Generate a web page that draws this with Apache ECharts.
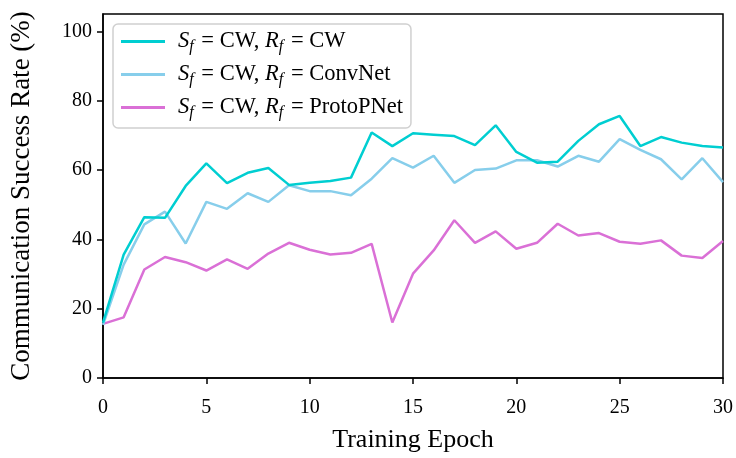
<!DOCTYPE html>
<html>
<head>
<meta charset="utf-8">
<script src="https://cdn.jsdelivr.net/npm/echarts@6/dist/echarts.min.js"></script>
<style>html,body{margin:0;padding:0;background:#fff}#c{width:736px;height:458px}</style>
</head>
<body>
<div id="c"></div>
<script>
var epochs = [0,1,2,3,4,5,6,7,8,9,10,11,12,13,14,15,16,17,18,19,20,21,22,23,24,25,26,27,28,29,30];
var cwCw = [16,35.6,46.4,46.2,55.4,61.9,56.2,59.2,60.6,55.7,56.3,56.8,57.8,70.8,66.9,70.6,70.2,69.8,67.2,72.9,65.2,62.1,62.4,68.4,73.2,75.6,66.9,69.5,67.9,66.9,66.5];
var cwConv = [15.3,32.7,44.3,48,38.8,50.8,48.8,53.3,50.8,55.6,53.9,53.9,52.7,57.5,63.4,60.7,64.1,56.3,60,60.4,62.8,62.8,61,64.1,62.4,68.9,65.8,63.1,57.3,63.4,56.5];
var cwProto = [15.6,17.5,31.3,34.9,33.4,31,34.2,31.5,35.9,39,37,35.6,36.1,38.7,16,30.1,36.8,45.5,39,42.3,37.3,39,44.5,41.1,41.8,39.3,38.7,39.7,35.3,34.6,39.5];
var seriesNames = ['CW, CW', 'CW, ConvNet', 'CW, ProtoPNet'];
var receivers = ['CW', 'ConvNet', 'ProtoPNet'];
var colors = ['#00CED1', '#87CEEB', '#DA70D6'];

function pairs(vals){ return epochs.map(function(e,i){ return [e, vals[i]]; }); }
var allVals = [cwCw, cwConv, cwProto];
var font = 'Liberation Serif';

var chart = echarts.init(document.getElementById('c'));
chart.setOption({
  animation: false,
  grid: {left: 103, right: 10, top: 14, bottom: 80, show: true, borderColor: '#000', borderWidth: 1.5, backgroundColor: 'transparent'},
  legend: {
    left: 113, top: 24, orient: 'vertical',
    icon: 'rect', itemWidth: 44, itemHeight: 3, itemGap: 6,
    padding: [4, 8, 7, 8],
    backgroundColor: 'rgba(255,255,255,0.85)', borderColor: '#d0d0d0', borderWidth: 1.5, borderRadius: 5,
    data: seriesNames,
    formatter: function(name){
      var r = receivers[seriesNames.indexOf(name)];
      return '{i|S}{s|f}{n| = CW, }{i|R}{s|f}{n| = ' + r + '}';
    },
    textStyle: {
      fontFamily: font, fontSize: 22.5, color: '#000', padding: [0,0,0,8], lineHeight: 24,
      rich: {
        i: {fontFamily: font, fontSize: 22.5, fontStyle: 'italic', color: '#000', lineHeight: 24},
        s: {fontFamily: font, fontSize: 16, fontStyle: 'italic', color: '#000', padding: [11,2,0,0], lineHeight: 16},
        n: {fontFamily: font, fontSize: 22.5, color: '#000', lineHeight: 24}
      }
    }
  },
  xAxis: {
    type: 'value', min: 0, max: 30, interval: 5,
    name: 'Training Epoch', nameLocation: 'middle', nameGap: 49,
    nameTextStyle: {fontFamily: font, fontSize: 26, color: '#000'},
    axisLine: {show: true, lineStyle: {color: '#000', width: 1.5}},
    axisTick: {show: true, length: 6, lineStyle: {color: '#000', width: 1.5}},
    axisLabel: {fontFamily: font, fontSize: 20, color: '#000', margin: 20},
    splitLine: {show: false}
  },
  yAxis: {
    type: 'value', min: 0, max: 105, interval: 20,
    name: 'Communication Success Rate (%)', nameLocation: 'middle', nameGap: 68,
    nameTextStyle: {fontFamily: font, fontSize: 27, color: '#000'},
    axisLine: {show: true, lineStyle: {color: '#000', width: 1.5}},
    axisTick: {show: true, length: 6, lineStyle: {color: '#000', width: 1.5}},
    axisLabel: {fontFamily: font, fontSize: 20, color: '#000', margin: 11, showMaxLabel: false},
    splitLine: {show: false}
  },
  series: seriesNames.map(function(n, k){
    return {
      name: n, type: 'line', data: pairs(allVals[k]), symbol: 'none',
      lineStyle: {color: colors[k], width: 2.5}, itemStyle: {color: colors[k]},
      z: 3 - k
    };
  })
});
</script>
</body>
</html>
